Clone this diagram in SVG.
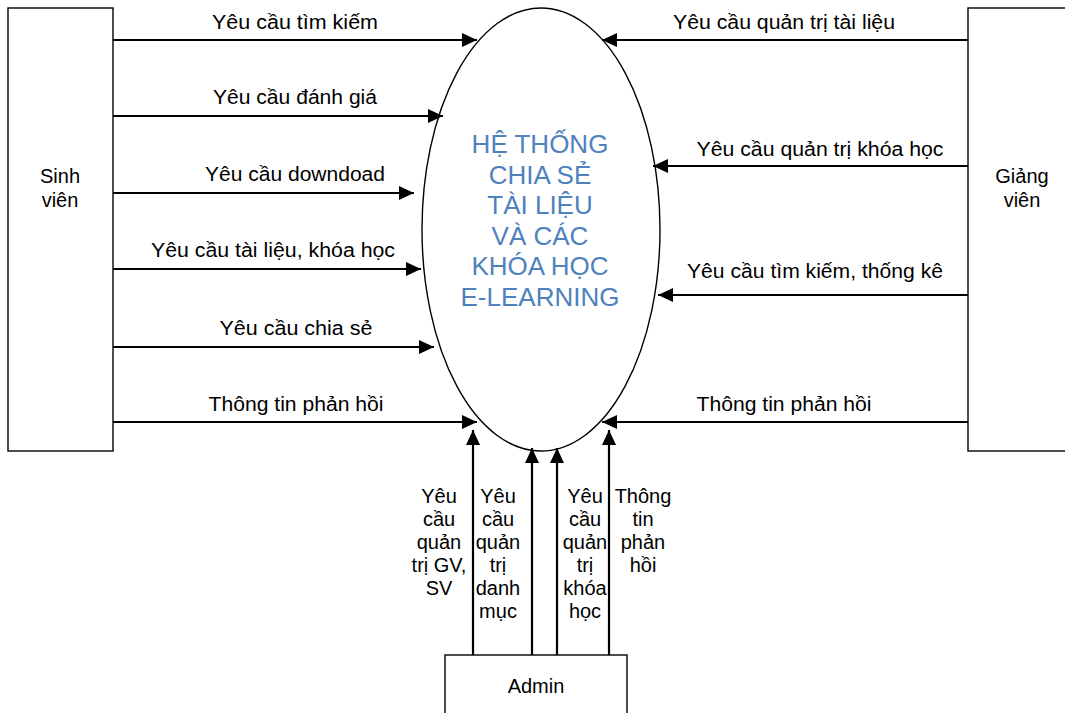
<svg xmlns="http://www.w3.org/2000/svg" width="1065" height="713" viewBox="0 0 1065 713">
<style>
.box{fill:#fff;stroke:#000;stroke-width:1.4}
.conn line{stroke:#000;stroke-width:2.2;fill:none}
.lbl{font-family:"Liberation Sans",Arial,sans-serif;font-size:20px;fill:#000;text-anchor:middle}
.core{font-family:"Liberation Sans",Arial,sans-serif;font-size:26px;fill:#4f81bd;text-anchor:middle}
</style>
<defs>
<marker id="ah" markerUnits="userSpaceOnUse" markerWidth="16" markerHeight="14" refX="15" refY="7" orient="auto">
<path d="M0,0 L15,7 L0,14 z" fill="#000"/>
</marker>
</defs>
<rect width="1065" height="713" fill="#fff"/>
<g id="sinhvien">
<rect class="box" x="8" y="8" width="105" height="443"/>
<text class="lbl" x="60" y="183">Sinh</text>
<text class="lbl" x="60" y="207">viên</text>
</g>
<g id="giangvien">
<rect class="box" x="968" y="8" width="110" height="443"/>
<text class="lbl" x="1022" y="183">Giảng</text>
<text class="lbl" x="1022" y="207">viên</text>
</g>
<g id="admin">
<rect class="box" x="445" y="655" width="182" height="70"/>
<text class="lbl" x="536" y="693">Admin</text>
</g>
<g id="system">
<ellipse cx="541" cy="229.5" rx="119" ry="221.5" fill="#fff" stroke="#000" stroke-width="1.4"/>
<text class="core" x="540" y="153">HỆ THỐNG</text>
<text class="core" x="540" y="183.6">CHIA SẺ</text>
<text class="core" x="540" y="214.2">TÀI LIỆU</text>
<text class="core" x="540" y="244.8">VÀ CÁC</text>
<text class="core" x="540" y="275.4">KHÓA HỌC</text>
<text class="core" x="540" y="306">E-LEARNING</text>
</g>
<g id="connectors" class="conn">
<line x1="113" y1="40" x2="477" y2="40" marker-end="url(#ah)"/>
<line x1="113" y1="116" x2="443" y2="116" marker-end="url(#ah)"/>
<line x1="113" y1="193" x2="414" y2="193" marker-end="url(#ah)"/>
<line x1="113" y1="269" x2="421" y2="269" marker-end="url(#ah)"/>
<line x1="113" y1="347" x2="434" y2="347" marker-end="url(#ah)"/>
<line x1="113" y1="422" x2="477" y2="422" marker-end="url(#ah)"/>
<line x1="968" y1="40" x2="602" y2="40" marker-end="url(#ah)"/>
<line x1="968" y1="166" x2="653" y2="166" marker-end="url(#ah)"/>
<line x1="968" y1="295" x2="658" y2="295" marker-end="url(#ah)"/>
<line x1="968" y1="422" x2="602" y2="422" marker-end="url(#ah)"/>
<line x1="473" y1="655" x2="473" y2="430" marker-end="url(#ah)"/>
<line x1="532" y1="655" x2="532" y2="448" marker-end="url(#ah)"/>
<line x1="557" y1="655" x2="557" y2="448" marker-end="url(#ah)"/>
<line x1="609" y1="655" x2="609" y2="430" marker-end="url(#ah)"/>
</g>
<g id="labels">
<text class="lbl" x="295" y="29" textLength="166" lengthAdjust="spacingAndGlyphs">Yêu cầu tìm kiếm</text>
<text class="lbl" x="295" y="104" textLength="164" lengthAdjust="spacingAndGlyphs">Yêu cầu đánh giá</text>
<text class="lbl" x="295" y="181" textLength="180" lengthAdjust="spacingAndGlyphs">Yêu cầu downdoad</text>
<text class="lbl" x="273" y="257" textLength="244" lengthAdjust="spacingAndGlyphs">Yêu cầu tài liệu, khóa học</text>
<text class="lbl" x="296" y="335" textLength="153" lengthAdjust="spacingAndGlyphs">Yêu cầu chia sẻ</text>
<text class="lbl" x="296" y="411" textLength="175" lengthAdjust="spacingAndGlyphs">Thông tin phản hồi</text>
<text class="lbl" x="784" y="29" textLength="222" lengthAdjust="spacingAndGlyphs">Yêu cầu quản trị tài liệu</text>
<text class="lbl" x="820" y="156" textLength="247" lengthAdjust="spacingAndGlyphs">Yêu cầu quản trị khóa học</text>
<text class="lbl" x="815" y="278" textLength="256" lengthAdjust="spacingAndGlyphs">Yêu cầu tìm kiếm, thống kê</text>
<text class="lbl" x="784" y="411" textLength="175" lengthAdjust="spacingAndGlyphs">Thông tin phản hồi</text>
<text class="lbl" x="439" y="503">Yêu</text>
<text class="lbl" x="439" y="526">cầu</text>
<text class="lbl" x="439" y="549">quản</text>
<text class="lbl" x="439" y="572">trị GV,</text>
<text class="lbl" x="439" y="595">SV</text>
<text class="lbl" x="498" y="503">Yêu</text>
<text class="lbl" x="498" y="526">cầu</text>
<text class="lbl" x="498" y="549">quản</text>
<text class="lbl" x="498" y="572">trị</text>
<text class="lbl" x="498" y="595">danh</text>
<text class="lbl" x="498" y="618">mục</text>
<text class="lbl" x="585" y="503">Yêu</text>
<text class="lbl" x="585" y="526">cầu</text>
<text class="lbl" x="585" y="549">quản</text>
<text class="lbl" x="585" y="572">trị</text>
<text class="lbl" x="585" y="595">khóa</text>
<text class="lbl" x="585" y="618">học</text>
<text class="lbl" x="643" y="503">Thông</text>
<text class="lbl" x="643" y="526">tin</text>
<text class="lbl" x="643" y="549">phản</text>
<text class="lbl" x="643" y="572">hồi</text>
</g>
</svg>
